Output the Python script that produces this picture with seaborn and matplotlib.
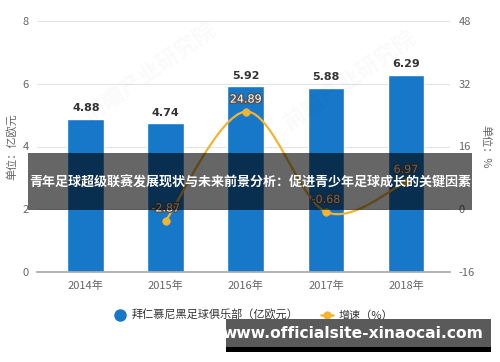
import matplotlib
matplotlib.use("Agg")
import matplotlib.pyplot as plt
import seaborn as sns
import numpy as np
import pandas as pd
from matplotlib.path import Path
from matplotlib.patches import PathPatch, Rectangle
from matplotlib.lines import Line2D
import matplotlib.patheffects as pe

years = ["2014年", "2015年", "2016年", "2017年", "2018年"]
revenue = [4.88, 4.74, 5.92, 5.88, 6.29]
growth_years = ["2015年", "2016年", "2017年", "2018年"]
growth = [-2.87, 24.89, -0.68, 6.97]
left_ticks = [0, 2, 4, 6, 8]
right_ticks = [-16, 0, 16, 32, 48]

sns.set_theme(style="white")
plt.rcParams['font.family'] = ['Noto Sans CJK SC', 'DejaVu Sans']
plt.rcParams['axes.unicode_minus'] = False

BLUE = "#1777C9"
GOLD = "#F2B431"
GRAY = "#666666"

fig = plt.figure(figsize=(5, 3.62), dpi=100)
ax = fig.add_axes([37/500, 1-272/362, (450-37)/500, (272-21)/362])

df = pd.DataFrame({"year": years, "rev": revenue})
sns.barplot(data=df, x="year", y="rev", color=BLUE, width=0.46, ax=ax,
            saturation=1, zorder=2)
ax.set_xlim(-0.61, 4.55)
ax.set_ylim(0, 8)
ax.set_yticks(left_ticks)
ax.grid(axis="y", color="#e3e3e3", linewidth=0.8, zorder=0)
ax.set_axisbelow(True)
for s in ["top", "right", "left"]:
    ax.spines[s].set_visible(False)
ax.spines["bottom"].set_color("#aaaaaa")
ax.tick_params(axis="x", colors=GRAY, labelsize=8, length=4, width=0.8, color="#aaaaaa", pad=2)
ax.tick_params(axis="y", colors=GRAY, labelsize=8, length=0, pad=6)
ax.set_xlabel("")
ax.set_ylabel("单位：亿欧元", color=GRAY, fontsize=8, labelpad=4)

for i, v in enumerate(revenue):
    ax.text(i, v + 0.18, f"{v:.2f}", ha="center", va="bottom", fontsize=8,
            fontweight="bold", color="#333333", family="DejaVu Sans")

ax2 = ax.twinx()
ax2.set_ylim(-16, 48)
ax2.set_yticks(right_ticks)
for s in ax2.spines.values():
    s.set_visible(False)
ax2.tick_params(axis="y", colors=GRAY, labelsize=8, length=0, pad=6)
ax2.set_ylabel("单位：%", color=GRAY, fontsize=8, rotation=270, labelpad=12)
ax2.grid(False)

# smooth curve (Catmull-Rom through the data points)
xpos = [years.index(y) for y in growth_years]
pts = np.column_stack([xpos, growth]).astype(float)
verts = [tuple(pts[0])]
codes = [Path.MOVETO]
n = len(pts)
for i in range(n - 1):
    p0 = pts[i - 1] if i > 0 else pts[i]
    p1, p2 = pts[i], pts[i + 1]
    p3 = pts[i + 2] if i + 2 < n else pts[i + 1]
    c1 = p1 + (p2 - p0) / 6
    c2 = p2 - (p3 - p1) / 6
    verts += [tuple(c1), tuple(c2), tuple(p2)]
    codes += [Path.CURVE4] * 3
ax2.add_patch(PathPatch(Path(verts, codes), fill=False, edgecolor=GOLD, lw=1.6, zorder=3))
gdf = pd.DataFrame({"x": xpos, "g": growth})
sns.scatterplot(data=gdf, x="x", y="g", color=GOLD, s=30, edgecolor=GOLD, ax=ax2, zorder=4, legend=False)
ax2.set_xlabel("")
for x, g in zip(xpos, growth):
    ax2.text(x, g + 1.8, f"{g:.2f}", ha="center", va="bottom", fontsize=8,
             color="white", family="DejaVu Sans", zorder=5,
             path_effects=[pe.withStroke(linewidth=2.2, foreground="#555555")])
ax2.set_xlim(-0.61, 4.55)

# faint watermarks
for (wx, wy) in [(0.30, 0.80), (0.70, 0.78)]:
    fig.text(wx, wy, "前瞻产业研究院", fontsize=16, color="#000000", alpha=0.025,
             rotation=35, ha="center", va="center", fontweight="bold")

# legend
h1 = Line2D([], [], marker="o", linestyle="none", color=BLUE, markersize=8)
h2 = Line2D([], [], marker="o", color=GOLD, lw=1.8, markersize=5)
fig.legend([h1, h2], ["拜仁慕尼黑足球俱乐部（亿欧元）", "增速（%）"],
           loc="center", bbox_to_anchor=(0.508, 1-315/362), ncol=2, frameon=False,
           fontsize=8, handlelength=1.1, columnspacing=2.0, handletextpad=0.5,
           labelcolor="#333333")

# banner overlay
fig.patches.append(Rectangle((28/500, 1-210/362), (472-28)/500, (210-153)/362,
                             transform=fig.transFigure, facecolor="black", alpha=0.6,
                             edgecolor="none", zorder=10))
fig.text(250/500, 1-183/362, "青年足球超级联赛发展现状与未来前景分析：促进青少年足球成长的关键因素",
         ha="center", va="center", fontsize=9.4, color="white", fontweight="bold", zorder=11)

# bottom site banner
fig.patches.append(Rectangle((226/500, 1-347/362), (491-226)/500, (347-319)/362,
                             transform=fig.transFigure, facecolor="#5a5a5a",
                             edgecolor="none", zorder=10))
fig.patches.append(Rectangle((226/500, 1-352/362), (491-226)/500, 5/362,
                             transform=fig.transFigure, facecolor="black",
                             edgecolor="none", zorder=10))
fig.text(353/500, 1-333/362, "www.officialsite-xinaocai.com", ha="center", va="center",
         fontsize=11.2, color="white", fontweight="bold", family="DejaVu Sans", zorder=11)

fig.savefig("out.png", dpi=100)
